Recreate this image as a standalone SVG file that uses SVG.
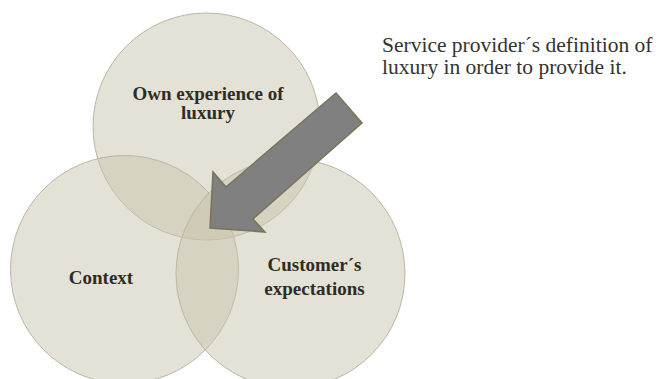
<svg xmlns="http://www.w3.org/2000/svg" width="660" height="379" viewBox="0 0 660 379">
<style>
.c{fill:#c7c3ac;fill-opacity:0.48;stroke:#b9b6a5;stroke-width:1}
.t{font-family:"Liberation Serif","Times New Roman",serif;font-weight:bold;font-size:19px;fill:#2e2c24;text-anchor:middle}
.s{font-family:"Liberation Serif","Times New Roman",serif;font-size:21.5px;fill:#333330}
.a{fill:#808080;stroke:#7a7456;stroke-width:1.5;stroke-linejoin:miter}
</style>
<rect width="660" height="379" fill="#ffffff"/>
<g id="node-own">
<circle class="c" cx="206.5" cy="126.5" r="113.5"/>
</g>
<g id="node-context">
<circle class="c" cx="124.5" cy="269.5" r="114"/>
</g>
<g id="node-customer">
<circle class="c" cx="290.5" cy="273.5" r="114.5"/>
</g>
<g id="connectors">
<polygon class="a" points="336,93 362,123 253,219 265,232 210,228 213,172 226,187"/>
</g>
<g id="labels">
<text class="t" x="208" y="100">Own experience of</text>
<text class="t" x="208" y="119">luxury</text>
<text class="t" x="101" y="284">Context</text>
<text class="t" x="314.5" y="271">Customer´s</text>
<text class="t" x="314.5" y="295">expectations</text>
</g>
<g id="node-note">
<text class="s" x="382" y="52">Service provider´s definition of</text>
<text class="s" x="382" y="74">luxury in order to provide it.</text>
</g>
</svg>
